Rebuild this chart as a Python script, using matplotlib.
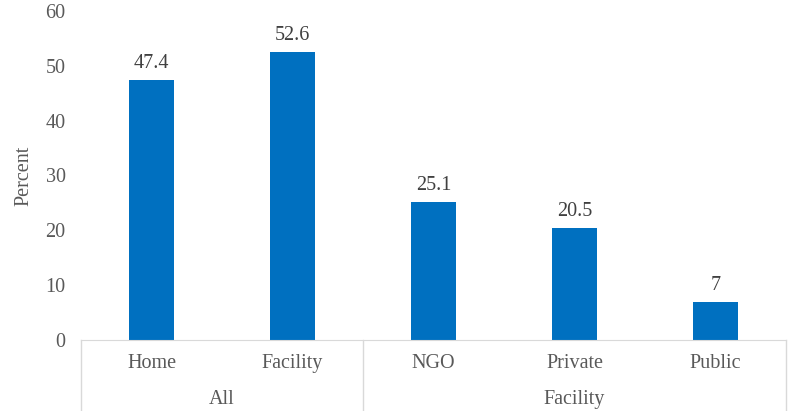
import matplotlib.pyplot as plt

categories = ["Home", "Facility", "NGO", "Private", "Public"]
values = [47.4, 52.6, 25.1, 20.5, 7]
value_labels = ["47.4", "52.6", "25.1", "20.5", "7"]
groups = ["All", "Facility"]
group_spans = [(0, 1), (2, 4)]

plt.rcParams['font.family'] = ['Liberation Serif', 'DejaVu Serif']
FS = 14.5

fig = plt.figure(figsize=(7.88, 4.11), dpi=100)
ax = fig.add_axes([81 / 788, 71 / 411, 705 / 788, 329 / 411])

x = list(range(len(categories)))
ax.bar(x, values, width=0.32, color='#0070C0')
for xi, v, lab in zip(x, values, value_labels):
    ax.annotate(lab, (xi, v), xytext=(0, 5), textcoords='offset points',
                ha='center', va='bottom', fontsize=FS, color='#404040')

ax.set_xlim(-0.5, len(categories) - 0.5)
ax.set_ylim(0, 60)
ax.set_yticks(range(0, 61, 10))
ax.tick_params(axis='y', length=0, labelsize=FS, labelcolor='#595959', pad=11)
ax.set_xticks([])
ax.set_ylabel("Percent", fontsize=FS, color='#595959', labelpad=9)

for s in ['top', 'right', 'left']:
    ax.spines[s].set_visible(False)
ax.spines['bottom'].set_color('#D9D9D9')

# category and group labels below axis
trans = ax.get_xaxis_transform()
for xi, c in zip(x, categories):
    ax.text(xi, -0.072, c, transform=trans, ha='center', va='center',
            fontsize=FS, color='#595959')
for g, (a, b) in zip(groups, group_spans):
    ax.text((a + b) / 2, -0.18, g, transform=trans, ha='center', va='center',
            fontsize=FS, color='#595959')

for xs in [-0.5, 1.5, 4.5]:
    ax.plot([xs, xs], [0, -0.22], transform=trans, color='#D9D9D9',
            lw=1, clip_on=False)

fig.savefig("out.png", dpi=100)
